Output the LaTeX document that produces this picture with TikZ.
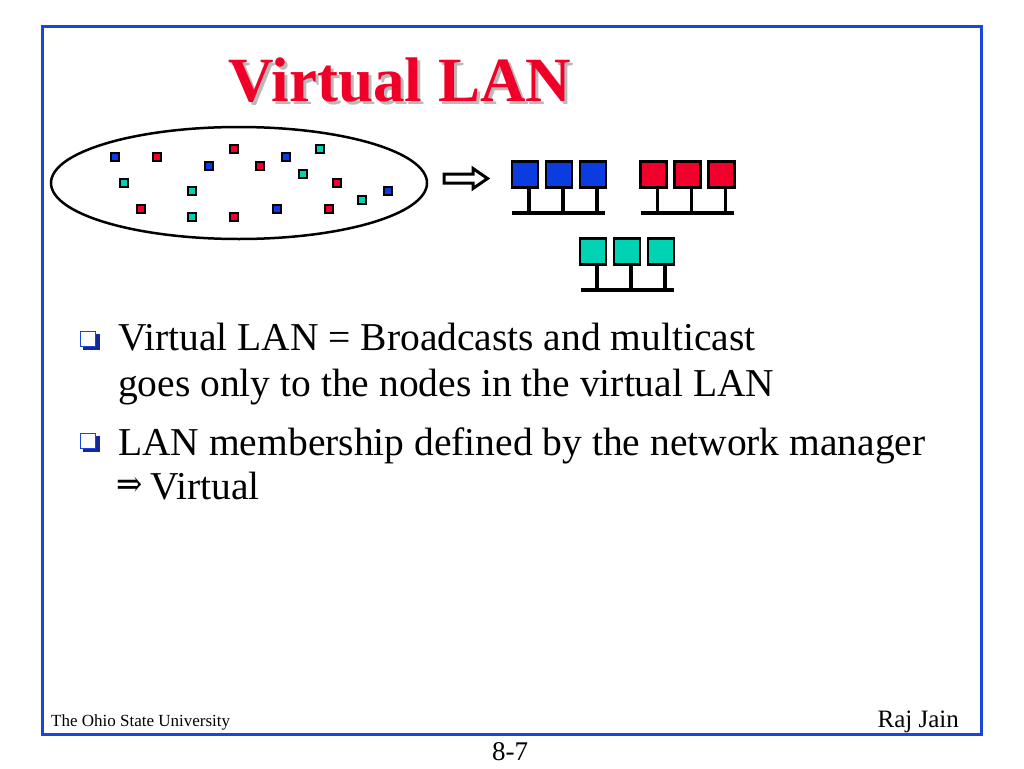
\documentclass[tikz,border=0pt]{standalone}
\usepackage{fontspec}
\setmainfont{Liberation Serif}
\newfontfamily\arrowfont{DejaVu Serif}
\definecolor{frameblue}{RGB}{26,70,224}
\definecolor{sqblue}{RGB}{10,60,224}
\definecolor{sqred}{RGB}{240,0,42}
\definecolor{sqteal}{RGB}{0,210,180}
\definecolor{titlered}{RGB}{240,0,40}
\definecolor{shadowgray}{RGB}{185,185,185}
\definecolor{bulletdark}{RGB}{20,40,150}
\tikzset{
  dot/.style={draw=black, line width=2.5pt, minimum size=8pt, inner sep=0pt, fill=#1},
  host/.style={draw=black, line width=2.5pt, minimum size=26pt, inner sep=0pt, fill=#1},
  wire/.style={line width=4pt, black},
  stem/.style={line width=3.2pt, black},
  bodytext/.style={anchor=base west, inner sep=0pt, font=\fontsize{39.5}{46}\selectfont},
}
\newcommand{\bigimplies}{\hspace{-2pt}\raisebox{3pt}{\scalebox{1.08}[1.25]{\arrowfont\fontsize{29}{30}\selectfont ⇒}}\hspace{8pt}}
\begin{document}
\begin{tikzpicture}[x=1pt,y=-1pt]
\useasboundingbox (0,0) rectangle (1024,768);
\fill[white] (0,0) rectangle (1024,768);
% frame
\draw[frameblue, line width=3pt] (42,27) rectangle (981,734);
% title
\node[anchor=base, inner sep=0pt, text=shadowgray, font=\fontsize{63}{70}\selectfont\bfseries] (titleshadow) at (403,104.5) {Virtual LAN};
\node[anchor=base, inner sep=0pt, text=titlered, font=\fontsize{63}{70}\selectfont\bfseries] (title) at (400,101.5) {Virtual LAN};
% ellipse
\draw[line width=2.5pt] (239,183) ellipse [x radius=188, y radius=56];
% small stations
\node[dot=sqblue] (s1) at (115,157) {};
\node[dot=sqred] (s2) at (157,157) {};
\node[dot=sqred] (s3) at (234,149) {};
\node[dot=sqblue] (s4) at (209,166) {};
\node[dot=sqred] (s5) at (260,166) {};
\node[dot=sqblue] (s6) at (286,157) {};
\node[dot=sqteal] (s7) at (320,149) {};
\node[dot=sqteal] (s8) at (303,174) {};
\node[dot=sqteal] (s9) at (124,183) {};
\node[dot=sqteal] (s10) at (192,191) {};
\node[dot=sqred] (s11) at (337,183) {};
\node[dot=sqblue] (s12) at (388,191) {};
\node[dot=sqteal] (s13) at (362,200) {};
\node[dot=sqred] (s14) at (141,209) {};
\node[dot=sqteal] (s15) at (192,217) {};
\node[dot=sqred] (s16) at (234,217) {};
\node[dot=sqblue] (s17) at (277,209) {};
\node[dot=sqred] (s18) at (329,209) {};
% hollow arrow
\draw[line width=3pt, fill=white, line join=miter] (444,174) -- (473,174) -- (473,168.5) -- (487.5,178.5) -- (473,188.5) -- (473,183) -- (444,183) -- cycle;
% blue LAN
\node[host=sqblue] (b1) at (525,174.5) {};
\node[host=sqblue] (b2) at (559,174.5) {};
\node[host=sqblue] (b3) at (593,174.5) {};
\coordinate (bL) at (512,213);
\coordinate (bR) at (605,213);
\draw[wire] (bL) -- (bR);
\foreach \n in {b1,b2,b3} \draw[stem] ([xshift=4pt]\n.south) -- ([xshift=4pt]\n.south |- bL);
% red LAN
\node[host=sqred] (r1) at (653.5,174.5) {};
\node[host=sqred] (r2) at (687.5,174.5) {};
\node[host=sqred] (r3) at (721.5,174.5) {};
\coordinate (rL) at (641,213);
\coordinate (rR) at (734,213);
\draw[wire] (rL) -- (rR);
\foreach \n in {r1,r2,r3} \draw[stem] ([xshift=4pt]\n.south) -- ([xshift=4pt]\n.south |- rL);
% teal LAN
\node[host=sqteal] (t1) at (593,251.5) {};
\node[host=sqteal] (t2) at (627,251.5) {};
\node[host=sqteal] (t3) at (661,251.5) {};
\coordinate (tL) at (581,290);
\coordinate (tR) at (674,290);
\draw[wire] (tL) -- (tR);
\foreach \n in {t1,t2,t3} \draw[stem] ([xshift=4pt]\n.south) -- ([xshift=4pt]\n.south |- tL);
% bullets
\foreach \y/\nm in {331/bu1, 433/bu2} {
  \fill[bulletdark] (82.5,\y+2.5) rectangle (100,\y+19);
  \node[draw=frameblue, fill=white, line width=1.3pt, minimum size=14.5pt, inner sep=0pt, anchor=north west] (\nm) at (80,\y) {};
}
\node[bodytext] (l1) at (118,350) {Virtual LAN = Broadcasts and multicast};
\node[bodytext] (l2) at (118,396) {goes only to the nodes in the virtual LAN};
\node[bodytext] (l3) at (118,455) {LAN membership defined by the network manager};
\node[bodytext] (l4) at (118,499) {\bigimplies Virtual};
% footer
\node[anchor=base west, inner sep=0pt, font=\fontsize{17}{19}\selectfont] (univ) at (51,726) {The Ohio State University};
\node[anchor=base east, inner sep=0pt, font=\fontsize{25}{28}\selectfont] (author) at (959,727) {Raj Jain};
\node[anchor=base, inner sep=0pt, font=\fontsize{27}{30}\selectfont] (page) at (510,760) {8-7};
\end{tikzpicture}
\end{document}
